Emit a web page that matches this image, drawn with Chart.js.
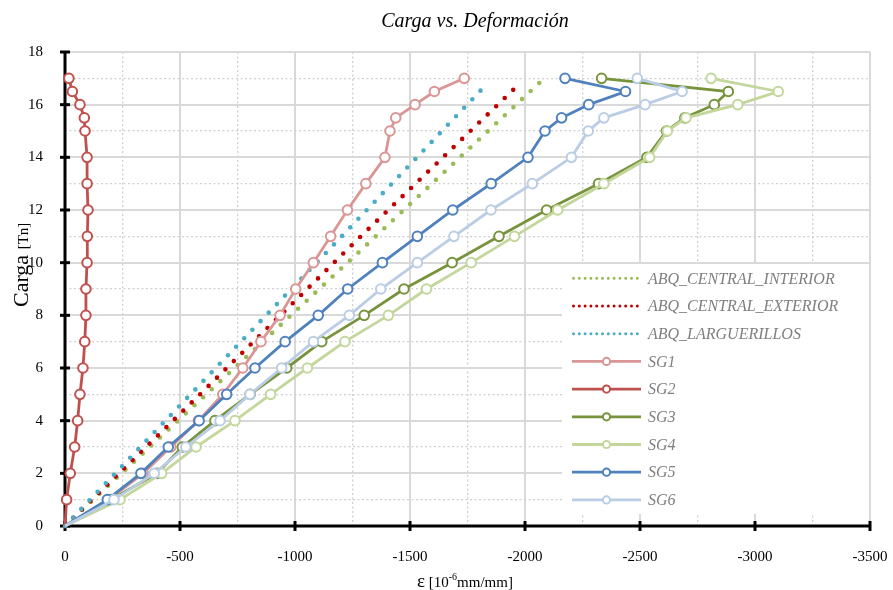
<!DOCTYPE html>
<html>
<head>
<meta charset="utf-8">
<script src="https://cdn.jsdelivr.net/npm/chart.js@4.4.1/dist/chart.umd.min.js"></script>
<style>
  html, body { margin: 0; padding: 0; background: #fff; }
  #wrap { width: 893px; height: 590px; }
</style>
</head>
<body>
<div id="wrap"><canvas id="grafico" width="893" height="590"></canvas></div>
<script>
// Carga [Tn] de los ensayos (todas las galgas SG comparten escalones)
const cargas = [0, 1, 2, 3, 4, 5, 6, 7, 8, 9, 10, 11, 12, 13, 14, 15, 15.5, 16, 16.5, 17];

const sg1 = [0, -190, -340, -460, -580, -686, -773, -852, -935, -1003, -1080, -1155, -1228, -1308, -1391, -1413, -1438, -1522, -1606, -1736];
const sg2 = [0, -7, -23, -42, -55, -65, -78, -86, -91, -91, -96, -97, -100, -96, -96, -87, -84, -65, -32, -17];
const sg3 = [0, -200, -400, -510, -652, -805, -964, -1116, -1301, -1474, -1683, -1887, -2094, -2320, -2530, -2615, -2695, -2823, -2884, -2333];
const sg4 = [0, -239, -420, -570, -739, -894, -1054, -1217, -1406, -1572, -1766, -1954, -2142, -2343, -2542, -2619, -2700, -2925, -3101, -2809];
const sg5 = [0, -184, -330, -449, -583, -703, -826, -957, -1101, -1229, -1380, -1532, -1686, -1853, -2013, -2087, -2159, -2277, -2437, -2174];
const sg6 = [0, -213, -388, -525, -674, -804, -942, -1080, -1236, -1373, -1532, -1691, -1852, -2032, -2202, -2275, -2343, -2522, -2683, -2488];

// Modelos ABAQUS
const abqCargas = [0, 5, 11, 16.85];
const abqInterior = [0, -614, -1351, -2065];
const abqExterior = [0, -587, -1286, -1983];
const abqLarguerillos = [0, -546, -1203, -1841];

const nombres = ['ABQ_CENTRAL_INTERIOR', 'ABQ_CENTRAL_EXTERIOR', 'ABQ_LARGUERILLOS', 'SG1', 'SG2', 'SG3', 'SG4', 'SG5', 'SG6'];
const colores = ['#9BBB59', '#C00000', '#4BACC6', '#DA9694', '#C0504D', '#77933C', '#C3D69B', '#4F81BD', '#B9CDE5'];

const serif = '"Liberation Serif", "Times New Roman", serif';

const pares = (xs, ys) => xs.map((v, i) => ({ x: v, y: ys[i] }));

function serieAbq(i, valores) {
  return {
    label: nombres[i],
    data: pares(valores, abqCargas),
    showLine: true,
    borderColor: colores[i],
    borderWidth: 4.6,
    borderDash: [0, 11.8],
    borderCapStyle: 'round',
    pointRadius: 0,
    pointHoverRadius: 0,
    tension: 0,
    clip: false,
    order: 8 - i
  };
}

function serieSg(i, valores) {
  return {
    label: nombres[i],
    data: pares(valores, cargas),
    showLine: true,
    borderColor: colores[i],
    borderWidth: 2.8,
    // sin marcador en el origen, como en el original
    pointRadius: (c) => (c.dataIndex === 0 ? 0 : 4.8),
    pointHoverRadius: 4.8,
    pointBorderWidth: 2,
    pointBackgroundColor: '#fff',
    pointBorderColor: colores[i],
    tension: 0,
    clip: false,
    order: 8 - i
  };
}

const datasets = [
  serieAbq(0, abqInterior),
  serieAbq(1, abqExterior),
  serieAbq(2, abqLarguerillos),
  serieSg(3, sg1),
  serieSg(4, sg2),
  serieSg(5, sg3),
  serieSg(6, sg4),
  serieSg(7, sg5),
  serieSg(8, sg6)
];

// ejes negros, leyenda interior y títulos
const decoracion = {
  id: 'decoracion',
  beforeDatasetsDraw(chart) {
    const { ctx, chartArea: a, scales: { x, y } } = chart;
    ctx.save();

    // caja blanca de la leyenda
    ctx.fillStyle = '#fff';
    ctx.fillRect(562, 264, a.right - 562 - 1, 250);

    // ejes
    ctx.strokeStyle = '#000';
    ctx.lineWidth = 3;
    ctx.beginPath();
    ctx.moveTo(a.left, a.top);
    ctx.lineTo(a.left, a.bottom);
    ctx.lineTo(a.right, a.bottom);
    ctx.stroke();
    for (let v = 0; v <= 18; v += 2) {
      const py = y.getPixelForValue(v);
      ctx.beginPath();
      ctx.moveTo(a.left - 5, py);
      ctx.lineTo(a.left + 5, py);
      ctx.stroke();
    }
    for (let v = 0; v >= -3500; v -= 500) {
      const px = x.getPixelForValue(v);
      ctx.beginPath();
      ctx.moveTo(px, a.bottom - 5);
      ctx.lineTo(px, a.bottom + 5);
      ctx.stroke();
    }
    ctx.restore();
  },
  afterDraw(chart) {
    const { ctx } = chart;
    ctx.save();

    // leyenda
    ctx.font = 'italic 16px ' + serif;
    ctx.textBaseline = 'middle';
    chart.data.datasets.forEach((ds, i) => {
      const py = 278.3 + i * 27.7;
      ctx.strokeStyle = ds.borderColor;
      if (i < 3) {
        ctx.lineWidth = 3;
        ctx.lineCap = 'round';
        ctx.setLineDash([0, 5.8]);
        ctx.beginPath();
        ctx.moveTo(573.5, py);
        ctx.lineTo(640, py);
        ctx.stroke();
        ctx.setLineDash([]);
      } else {
        ctx.lineWidth = ds.borderWidth;
        ctx.lineCap = 'butt';
        ctx.beginPath();
        ctx.moveTo(572, py);
        ctx.lineTo(641, py);
        ctx.stroke();
        ctx.beginPath();
        ctx.arc(606.5, py, 3.6, 0, Math.PI * 2);
        ctx.fillStyle = '#fff';
        ctx.fill();
        ctx.lineWidth = 2;
        ctx.stroke();
      }
      ctx.fillStyle = '#7F7F7F';
      ctx.fillText(ds.label, 648, py + 1);
    });

    // título
    ctx.fillStyle = '#000';
    ctx.textAlign = 'center';
    ctx.textBaseline = 'alphabetic';
    ctx.font = 'italic 20px ' + serif;
    ctx.fillText('Carga vs. Deformación', 475, 27);

    // título eje x
    ctx.textAlign = 'left';
    let px = 417;
    const base = 587;
    ctx.font = '19px ' + serif;
    ctx.fillText('ε', px, base);
    px += ctx.measureText('ε').width;
    ctx.font = '15px ' + serif;
    ctx.fillText(' [10', px, base);
    px += ctx.measureText(' [10').width;
    ctx.font = '10px ' + serif;
    ctx.fillText('-6', px, base - 7);
    px += ctx.measureText('-6').width;
    ctx.font = '15px ' + serif;
    ctx.fillText('mm/mm]', px, base);

    // título eje y
    ctx.translate(28, 307);
    ctx.rotate(-Math.PI / 2);
    ctx.font = '22px ' + serif;
    ctx.fillText('Carga', 0, 0);
    const w = ctx.measureText('Carga ').width;
    ctx.font = '15px ' + serif;
    ctx.fillText('[Tn]', w, 0);

    ctx.restore();
  }
};

const esMayorX = (c) => c.tick && c.tick.value % 500 === 0;
const esMayorY = (c) => c.tick && c.tick.value % 2 === 0;

new Chart(document.getElementById('grafico'), {
  type: 'scatter',
  data: { datasets },
  options: {
    responsive: false,
    animation: false,
    events: [],
    layout: { padding: { top: 52, right: 23, left: 0, bottom: 0 } },
    plugins: {
      legend: { display: false },
      title: { display: false },
      tooltip: { enabled: false }
    },
    scales: {
      x: {
        type: 'linear',
        min: -3500,
        max: 0,
        reverse: true,
        afterFit: (s) => {
          s.height = 64;
          s.paddingLeft = 0;
          s.paddingRight = 0;
        },
        ticks: {
          stepSize: 250,
          autoSkip: false,
          maxRotation: 0,
          padding: 22,
          color: '#000',
          font: { family: serif, size: 15 },
          callback: (v) => (v % 500 === 0 ? String(v) : '')
        },
        grid: {
          drawTicks: false,
          color: (c) => (esMayorX(c) ? '#D9D9D9' : '#D0D0D0'),
          lineWidth: (c) => (esMayorX(c) ? 2 : 1.3)
        },
        border: {
          display: false,
          dash: (c) => (esMayorX(c) ? [] : [2, 2.5])
        }
      },
      y: {
        type: 'linear',
        min: 0,
        max: 18,
        afterFit: (s) => {
          s.width = 65;
          s.paddingTop = 0;
          s.paddingBottom = 0;
        },
        ticks: {
          stepSize: 1,
          autoSkip: false,
          padding: 22,
          color: '#000',
          font: { family: serif, size: 15 },
          callback: (v) => (v % 2 === 0 ? String(v) : '')
        },
        grid: {
          drawTicks: false,
          color: (c) => (esMayorY(c) ? '#D9D9D9' : '#D0D0D0'),
          lineWidth: (c) => (esMayorY(c) ? 2 : 1.3)
        },
        border: {
          display: false,
          dash: (c) => (esMayorY(c) ? [] : [2, 2.5])
        }
      }
    }
  },
  plugins: [decoracion]
});
</script>
</body>
</html>
